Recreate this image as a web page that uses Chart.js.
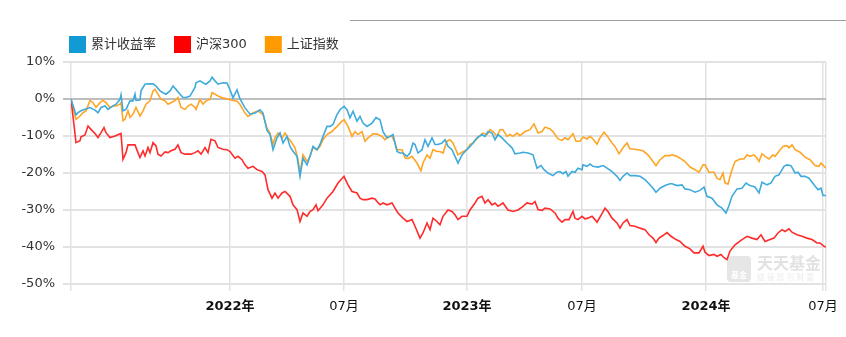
<!DOCTYPE html>
<html><head><meta charset="utf-8">
<script src="https://cdn.jsdelivr.net/npm/chart.js@4.4.1/dist/chart.umd.min.js"></script>
<style>
html,body{margin:0;padding:0;background:#fff;}
#wrap{position:relative;width:846px;height:337px;overflow:hidden;}
#topline{position:absolute;left:350px;top:20px;width:496px;height:1px;background:#a0a0a0;}
</style></head><body>
<div id="wrap"><canvas id="c" width="846" height="337"></canvas><div id="topline"></div></div>
<script>
// ---- data (x = trading-day index from start, y = cumulative return %) ----
const seriesNames = ['累计收益率', '沪深300', '上证指数'];

const fundDays = [0,5,7,10,14,19,24,27,30,34,37,40,45,49,50,52,55,59,62,64,65,69,70,72,74,77,82,85,89,92,95,99,102,105,109,112,115,119,122,124,125,129,132,135,139,141,144,147,152,156,159,162,166,169,174,179,184,189,192,196,199,202,206,209,212,216,219,222,226,229,232,236,239,242,246,249,252,256,259,262,266,269,273,276,279,282,286,289,292,296,301,305,309,312,316,319,322,326,329,332,336,339,342,344,347,351,354,357,361,364,367,371,374,377,381,384,387,391,394,399,402,406,411,414,417,421,424,427,431,436,441,444,449,452,457,462,466,470,473,477,482,486,489,492,495,497,501,504,507,511,512,516,519,522,527,532,536,541,546,549,552,556,559,564,569,574,578,582,585,589,594,599,601,606,611,614,619,624,629,633,636,641,646,651,655,658,661,666,671,675,679,684,688,691,696,700,704,708,713,716,720,724,727,730,734,738,743,747,750,752,755];
const fundValues = [0,-4.3,-3.7,-3.2,-2.8,-2.3,-3.0,-3.7,-2.3,-1.9,-2.8,-2.2,-1.4,-0.1,1.1,-3.2,-2.8,-0.5,-0.5,1.3,-0.4,-0.3,2.2,3.1,4.0,4.1,4.1,3.5,2.2,1.7,1.3,2.2,3.5,2.6,1.3,0.4,0.4,0.8,2.2,3.1,4.4,4.9,4.4,4.0,4.9,5.9,4.9,4.0,4.4,4.3,2.5,0.3,2.5,0.0,-2.4,-4.1,-3.8,-2.9,-3.8,-8.5,-9.6,-13.7,-10.5,-9.2,-11.9,-10.1,-12.8,-14.1,-15.5,-20.9,-16.0,-17.8,-15.5,-12.8,-13.7,-12.3,-10.1,-7.4,-7.4,-6.9,-4.2,-2.9,-2.0,-2.9,-5.1,-3.3,-6.0,-4.7,-6.5,-7.4,-6.5,-5.0,-5.6,-8.8,-10.5,-10.1,-9.6,-14.2,-14.6,-14.6,-15.5,-14.6,-11.9,-12.3,-14.6,-13.7,-11.0,-12.8,-10.5,-12.3,-12.3,-11.9,-11.0,-12.8,-13.7,-15.5,-17.3,-15.1,-14.2,-12.8,-11.9,-10.5,-9.6,-10.1,-8.8,-9.2,-11.0,-9.6,-10.5,-11.9,-13.2,-14.8,-14.6,-14.4,-14.6,-15.1,-18.7,-18.0,-19.1,-20.0,-20.7,-19.8,-19.6,-20.2,-19.6,-20.9,-19.6,-19.8,-18.7,-19.1,-17.8,-18.2,-17.6,-18.2,-18.4,-18.0,-18.7,-19.6,-20.9,-22.0,-20.9,-20.0,-20.7,-20.7,-20.9,-21.8,-22.9,-24.1,-25.2,-24.1,-23.4,-22.9,-22.9,-23.4,-23.2,-24.3,-24.5,-25.2,-24.7,-23.8,-26.3,-26.8,-28.6,-29.5,-30.8,-28.8,-26.3,-24.3,-24.1,-22.7,-23.4,-23.8,-25.4,-22.5,-23.2,-22.7,-20.9,-20.5,-18.2,-17.8,-18.0,-20.0,-19.8,-20.9,-20.9,-21.4,-23.2,-24.5,-24.1,-26.1,-26.1];

const hs300Days = [0,5,9,10,14,17,20,24,27,30,33,35,39,44,50,52,55,57,64,67,69,72,74,77,79,82,85,87,90,94,97,100,104,107,110,114,117,120,124,127,130,134,137,140,144,147,152,156,159,164,167,171,174,177,182,186,191,194,197,201,204,207,211,214,219,222,226,229,232,236,239,242,245,247,252,256,262,267,273,277,281,286,289,292,296,301,304,306,309,312,316,321,324,327,332,336,341,344,349,352,356,359,362,366,369,372,377,381,384,387,391,396,399,404,407,411,414,417,421,424,427,432,437,442,447,452,456,461,464,467,471,474,479,484,487,491,494,498,502,504,507,511,514,517,521,524,526,531,534,537,541,546,549,552,556,559,564,569,574,578,582,585,588,592,596,600,605,609,614,619,623,628,632,634,638,643,646,650,653,656,659,664,671,676,681,686,690,694,699,703,707,711,714,718,721,726,731,736,741,746,749,753,755];
const hs300Values = [0,-11.8,-11.3,-10.2,-9.7,-7.3,-8.2,-9.3,-10.4,-9.1,-7.7,-9.1,-10.4,-10.0,-9.3,-16.3,-14.5,-12.4,-12.4,-14.5,-15.8,-14.0,-15.4,-13.1,-14.5,-11.8,-12.7,-14.9,-15.4,-14.3,-14.5,-14.0,-13.6,-12.4,-14.5,-14.9,-14.9,-14.9,-14.5,-14.0,-14.9,-13.1,-14.5,-10.9,-11.3,-13.1,-13.6,-13.7,-14.2,-16.0,-15.5,-16.4,-17.8,-18.7,-18.2,-19.1,-19.6,-20.5,-24.5,-26.8,-25.4,-26.8,-25.4,-25.0,-26.3,-28.6,-29.9,-33.1,-30.8,-31.7,-30.4,-29.9,-28.6,-30.2,-28.6,-26.8,-25.0,-22.7,-20.9,-23.2,-25.0,-25.4,-26.8,-27.2,-27.2,-26.8,-27.0,-27.7,-28.6,-28.1,-28.6,-28.1,-29.5,-30.8,-32.2,-33.1,-32.6,-34.4,-37.6,-36.2,-33.5,-35.3,-32.2,-33.1,-34.0,-31.7,-30.0,-30.4,-31.3,-32.6,-31.7,-31.7,-30.0,-28.1,-26.8,-26.3,-28.1,-27.2,-28.6,-28.1,-29.0,-28.1,-30.0,-30.4,-30.0,-29.0,-28.1,-28.4,-27.7,-29.9,-30.1,-29.5,-29.7,-30.8,-32.2,-33.3,-32.6,-32.6,-30.4,-32.2,-32.6,-31.7,-32.4,-32.2,-31.7,-32.6,-33.3,-31.0,-29.5,-30.4,-32.2,-33.5,-34.9,-33.5,-32.6,-34.2,-34.4,-34.9,-35.3,-36.7,-37.6,-38.8,-37.6,-36.9,-36.1,-37.1,-38.0,-38.5,-39.8,-40.5,-41.6,-41.6,-39.8,-41.4,-42.3,-42.0,-42.5,-42.0,-42.9,-43.4,-41.1,-39.4,-38.0,-37.1,-37.6,-38.0,-36.7,-38.5,-38.0,-37.6,-36.2,-35.3,-35.8,-35.1,-36.0,-36.7,-37.1,-37.6,-38.0,-38.9,-38.9,-39.8,-40.0];

const shDays = [0,5,9,12,15,19,22,25,29,32,35,39,42,45,49,50,52,54,57,59,62,65,69,72,75,79,82,84,87,90,94,97,100,104,107,110,114,117,120,124,125,129,132,135,139,141,144,147,152,159,166,169,174,177,182,187,192,196,199,202,204,207,211,214,217,221,224,227,229,232,236,239,242,246,249,252,256,261,266,271,273,277,281,284,287,291,294,297,302,306,311,314,317,321,324,326,331,334,337,341,346,350,352,356,359,362,366,369,372,376,379,382,387,391,396,399,402,408,412,416,419,422,426,429,432,436,439,442,446,449,454,459,463,467,471,474,479,482,487,491,494,497,502,505,509,512,516,519,522,526,529,533,536,541,544,548,552,556,559,562,567,572,577,582,585,589,594,599,601,606,609,614,619,624,628,632,634,638,643,646,649,652,654,657,660,664,669,673,676,679,683,686,688,691,694,698,702,704,708,712,716,718,721,724,729,734,739,744,748,750,755];
const shValues = [0,-5.5,-4.6,-3.7,-3.2,-0.4,-1.0,-2.3,-1.0,-0.4,-1.0,-2.3,-1.9,-1.9,-1.4,-1.0,-5.9,-5.5,-3.2,-5.0,-4.1,-2.3,-4.6,-3.2,-1.4,-0.5,2.2,2.6,1.3,-0.1,-0.5,-1.4,-1.0,-0.4,0.4,-2.3,-2.8,-1.9,-1.4,-2.3,-2.8,-0.1,-1.4,-0.5,-0.1,1.7,1.3,0.8,0.3,-0.2,-0.6,-1.5,-3.8,-4.7,-3.8,-3.2,-4.2,-7.9,-9.2,-12.3,-10.5,-9.2,-10.5,-9.2,-10.5,-11.9,-13.2,-16.4,-20.0,-15.1,-16.9,-15.5,-13.2,-13.7,-12.8,-11.0,-9.6,-8.8,-7.4,-6.0,-5.6,-7.4,-10.1,-8.8,-9.6,-8.8,-11.4,-10.5,-9.4,-9.5,-10.1,-11.0,-10.1,-10.1,-11.9,-13.7,-13.7,-15.9,-16.1,-15.5,-17.3,-19.4,-17.3,-15.1,-16.0,-13.7,-14.2,-14.2,-14.6,-11.4,-11.0,-11.9,-15.1,-14.4,-13.7,-12.3,-11.9,-10.1,-9.2,-9.6,-8.3,-8.8,-10.1,-8.3,-8.3,-10.1,-9.6,-10.1,-9.2,-9.9,-8.8,-8.3,-6.7,-9.2,-8.8,-7.6,-8.1,-8.8,-10.8,-11.2,-10.5,-11.0,-9.4,-11.4,-11.4,-10.3,-10.8,-10.1,-10.8,-12.2,-10.5,-9.0,-9.9,-11.9,-12.8,-14.8,-13.2,-11.9,-13.5,-13.5,-13.7,-14.0,-15.1,-16.9,-18.0,-16.4,-15.3,-15.3,-15.1,-15.5,-16.0,-16.9,-18.4,-19.1,-19.8,-17.8,-17.8,-19.8,-19.8,-21.4,-21.8,-20.0,-22.7,-23.0,-20.0,-16.9,-16.2,-16.2,-15.1,-15.5,-15.1,-16.0,-16.9,-14.8,-15.5,-16.2,-15.1,-15.5,-14.1,-12.8,-12.6,-13.2,-12.4,-13.7,-14.4,-15.7,-16.4,-18.0,-18.2,-17.3,-18.7];

const tickDays   = [0, 159, 273, 396, 511, 635, 752, 755];
const tickLabels = ['', '2022年', '07月', '2023年', '07月', '2024年', '07月', ''];
const yTickValues = [-50, -40, -30, -20, -10, 0, 10];

// ---- rendering ----
const FONT = '"DejaVu Sans", "Noto Sans CJK SC", sans-serif';
const toPoints = (days, vals) => days.map((d, i) => ({ x: d, y: vals[i] }));

const legendPlugin = {
  id: 'customLegend',
  afterDraw(chart) {
    const ctx = chart.ctx;
    ctx.save();
    ctx.font = '13px ' + FONT;
    ctx.textBaseline = 'middle';
    let x = 69; const y = 44;
    chart.data.datasets.forEach(ds => {
      ctx.fillStyle = ds.legendColor;
      ctx.fillRect(x, y - 8, 17, 17);
      x += 22;
      ctx.fillStyle = '#333';
      ctx.fillText(ds.label, x, y + 1);
      x += ctx.measureText(ds.label).width + 18;
    });
    ctx.restore();
  }
};

const watermarkPlugin = {
  id: 'watermark',
  beforeDatasetsDraw(chart) {
    const ctx = chart.ctx;
    ctx.save();
    const ix = 727, iy = 256, s = 24;
    ctx.fillStyle = '#e6e6e6';
    ctx.beginPath();
    if (ctx.roundRect) ctx.roundRect(ix, iy, s, s + 2, 4); else ctx.rect(ix, iy, s, s + 2);
    ctx.fill();
    ctx.fillStyle = '#ffffff';
    ctx.font = 'bold 8px "Noto Sans CJK SC", sans-serif';
    ctx.textAlign = 'center';
    ctx.textBaseline = 'middle';
    ctx.fillText('基金', ix + s / 2, iy + 19);
    ctx.fillStyle = '#e2e2e2';
    ctx.textAlign = 'left';
    ctx.font = 'bold 16px "Noto Sans CJK SC", sans-serif';
    ctx.fillText('天天基金', 757, 263);
    ctx.font = '8px "Noto Sans CJK SC", sans-serif';
    ctx.fillStyle = '#ececec';
    ctx.fillText('链 接 您 与 财 富', 757, 277);
    ctx.restore();
  }
};

new Chart(document.getElementById('c'), {
  type: 'line',
  data: {
    datasets: [
      { label: seriesNames[0], data: toPoints(fundDays, fundValues), borderColor: '#3eabdc', legendColor: '#129ad5', borderWidth: 1.6, pointRadius: 0, tension: 0, fill: false },
      { label: seriesNames[1], data: toPoints(hs300Days, hs300Values), borderColor: '#ff2b2b', legendColor: '#ff0000', borderWidth: 1.6, pointRadius: 0, tension: 0, fill: false },
      { label: seriesNames[2], data: toPoints(shDays, shValues), borderColor: '#ffa526', legendColor: '#ff9a00', borderWidth: 1.6, pointRadius: 0, tension: 0, fill: false }
    ]
  },
  options: {
    responsive: false,
    animation: false,
    events: [],
    layout: { padding: { top: 62, right: 20, bottom: 0, left: 0 } },
    plugins: { legend: { display: false }, tooltip: { enabled: false } },
    scales: {
      x: {
        type: 'linear',
        min: tickDays[0],
        max: tickDays[tickDays.length - 1],
        afterBuildTicks: s => { s.ticks = tickDays.map(v => ({ value: v })); },
        afterFit: s => { s.height = 53; },
        border: { display: false },
        grid: { color: '#e2e2e2', lineWidth: 1.5, tickLength: 7 },
        ticks: {
          autoSkip: false, maxRotation: 0, padding: 8, color: '#111',
          font: c => ({ size: 13, family: FONT, weight: (tickLabels[c.index] || '').includes('年') ? 'bold' : 'normal' }),
          callback: (v, i) => tickLabels[i]
        }
      },
      y: {
        min: yTickValues[0],
        max: yTickValues[yTickValues.length - 1],
        afterBuildTicks: s => { s.ticks = yTickValues.map(v => ({ value: v })); },
        afterFit: s => { s.width = 71; },
        border: { display: false },
        grid: { color: c => (c.tick && c.tick.value === 0) ? '#bdbdbd' : '#e2e2e2', lineWidth: 2, tickLength: 8 },
        ticks: { padding: 8, color: '#333', font: { size: 13, family: FONT }, callback: v => v + '%' }
      }
    }
  },
  plugins: [legendPlugin, watermarkPlugin]
});
</script>
</body></html>
